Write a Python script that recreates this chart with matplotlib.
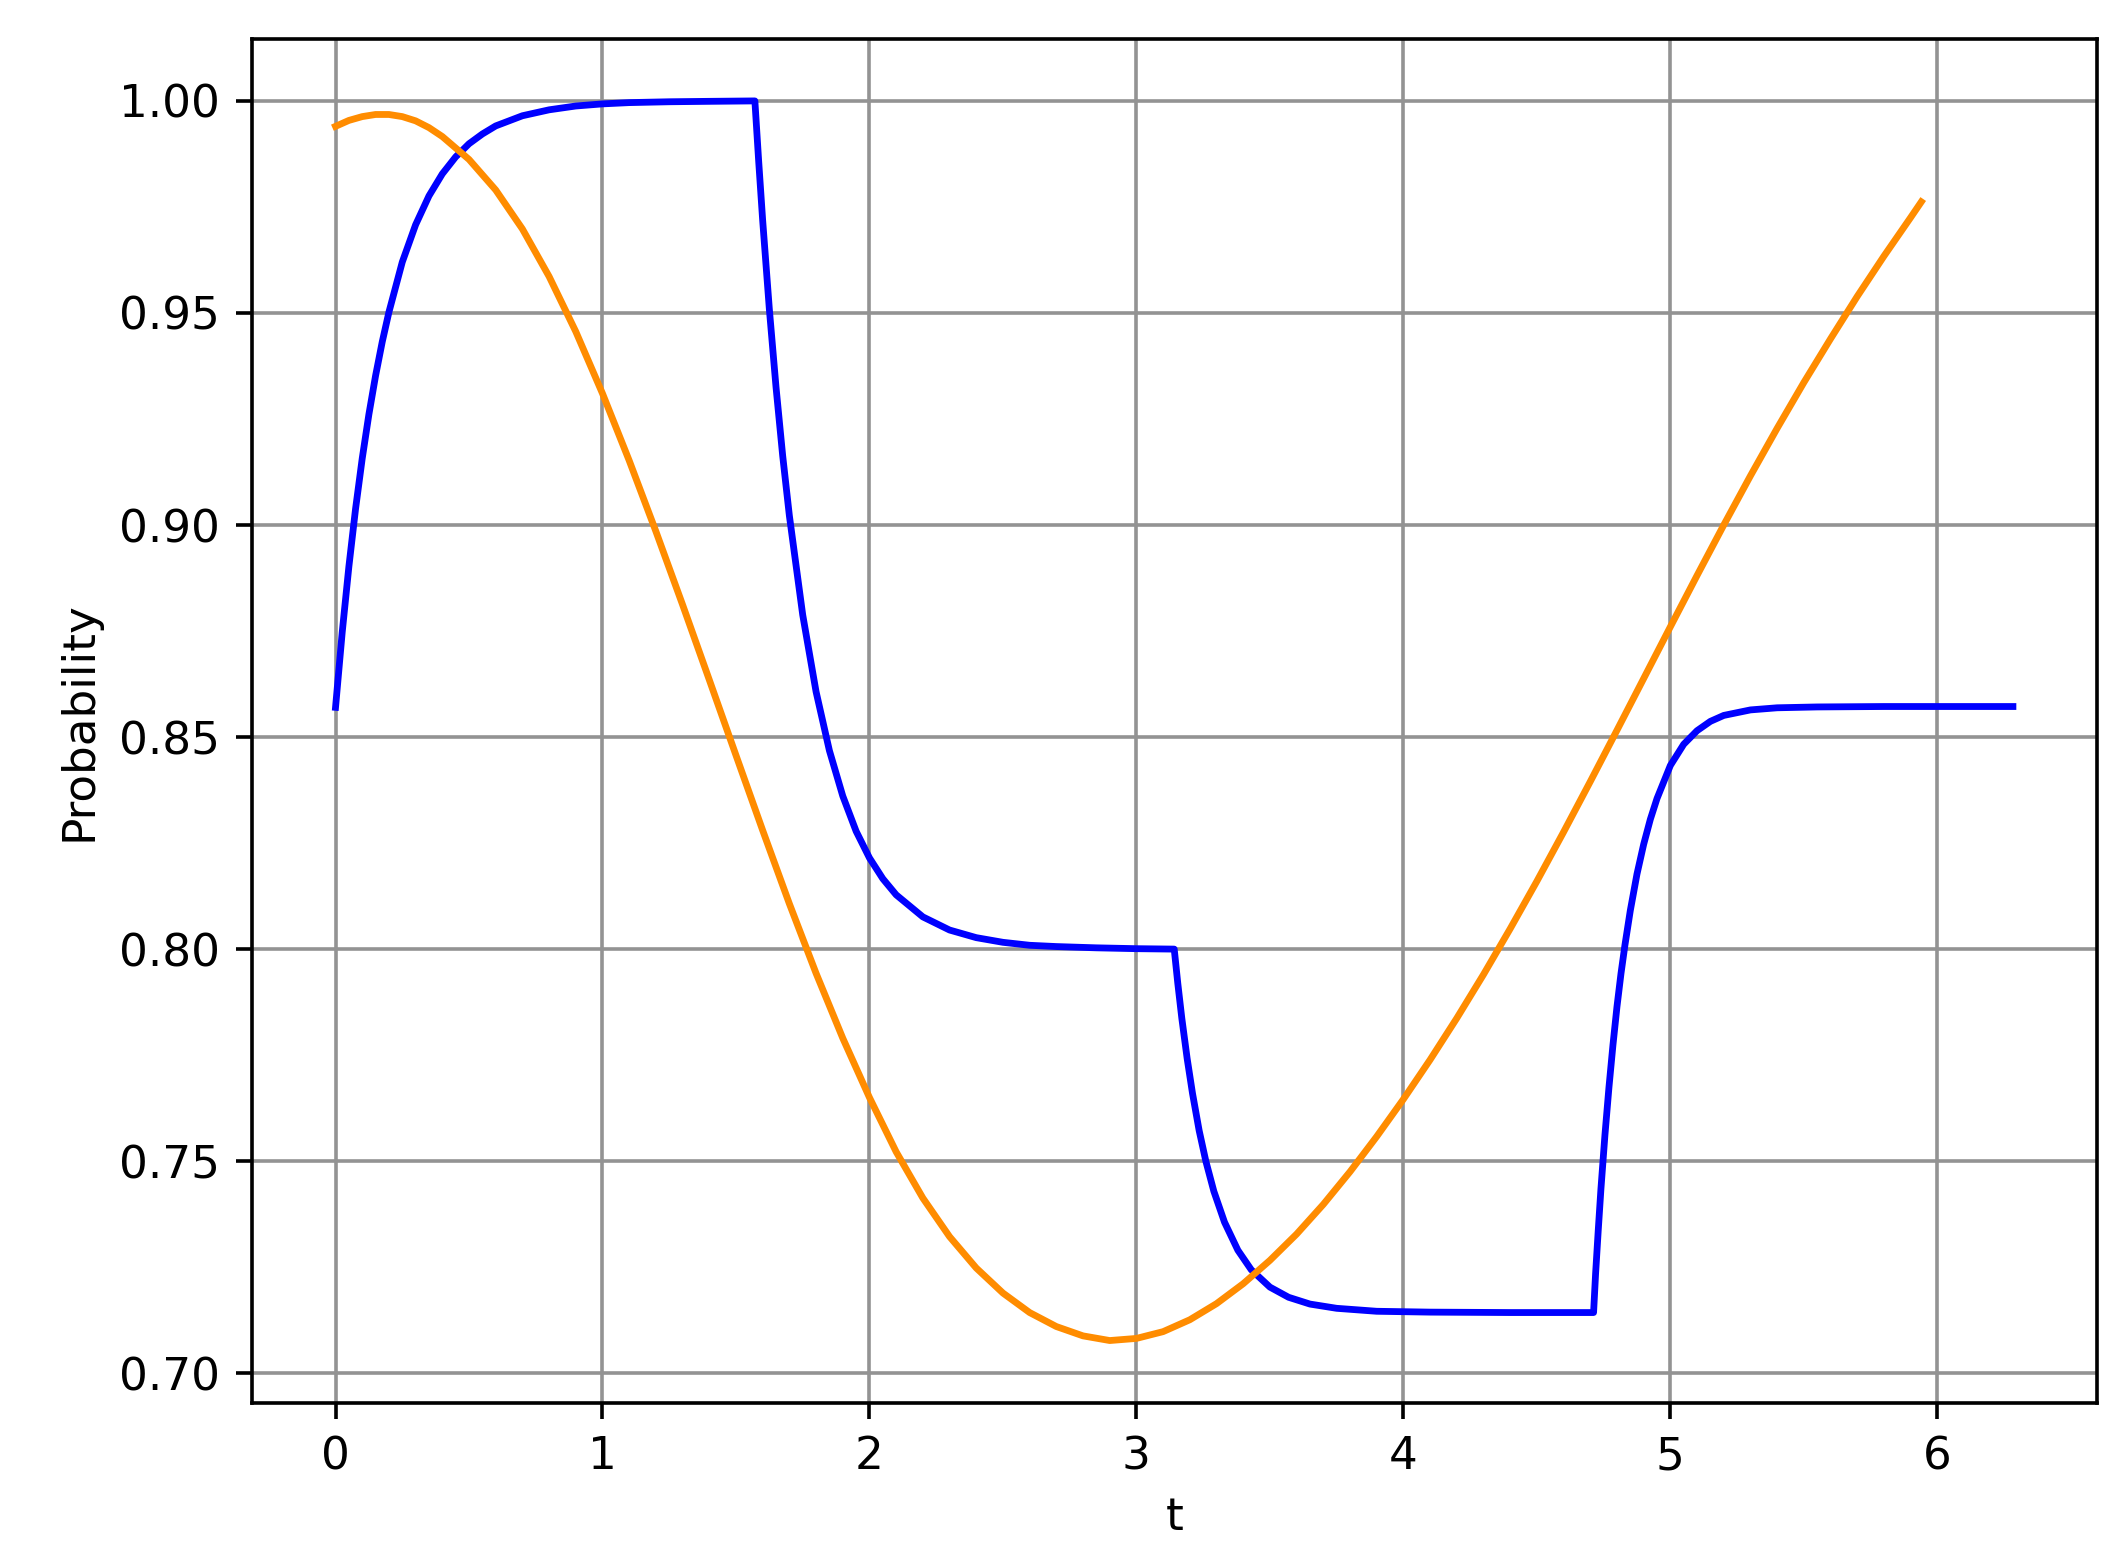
import matplotlib
matplotlib.use("Agg")
import matplotlib.pyplot as plt

# Blue curve (piecewise relaxation)
blue_t = [0.00, 0.025, 0.05, 0.075, 0.10, 0.125, 0.15, 0.175, 0.20, 0.25, 0.30, 0.35, 0.40, 0.45, 0.50, 0.55,
          0.60, 0.70, 0.80, 0.90, 1.00, 1.10, 1.25, 1.40, 1.5708,
          1.585, 1.60, 1.625, 1.65, 1.675, 1.70, 1.75, 1.80, 1.85, 1.90, 1.95, 2.00, 2.05, 2.10, 2.20, 2.30,
          2.40, 2.50, 2.60, 2.70, 2.85, 3.00, 3.1416,
          3.155, 3.17, 3.19, 3.21, 3.235, 3.26, 3.29, 3.33, 3.38, 3.43, 3.50, 3.57, 3.65, 3.75, 3.90, 4.10,
          4.40, 4.7124,
          4.72, 4.73, 4.74, 4.755, 4.77, 4.785, 4.80, 4.815, 4.83, 4.85, 4.875, 4.90, 4.925, 4.95, 5.00, 5.05,
          5.10, 5.15, 5.20, 5.30, 5.40, 5.55, 5.80, 6.2832]
blue_p = [0.8570, 0.8747, 0.8902, 0.9038, 0.9157, 0.9261, 0.9352, 0.9432, 0.9502, 0.9620, 0.9708, 0.9776, 0.9828,
          0.9868, 0.9899, 0.9922, 0.9941, 0.9965, 0.9979, 0.9988, 0.9993, 0.9996, 0.9998, 0.9999, 1.0,
          0.9858, 0.9718, 0.9509, 0.9325, 0.9163, 0.9022, 0.8788, 0.8607, 0.8468, 0.8361, 0.8278, 0.8215, 0.8166,
          0.8128, 0.8076, 0.8045, 0.8027, 0.8016, 0.8009, 0.8006, 0.8003, 0.8001, 0.8000,
          0.7919, 0.7837, 0.7742, 0.7660, 0.7572, 0.7500, 0.7429, 0.7356, 0.7290, 0.7244, 0.7203, 0.7179, 0.7163,
          0.7153, 0.7146, 0.7144, 0.7143, 0.7143,
          0.7235, 0.7338, 0.7435, 0.7562, 0.7674, 0.7774, 0.7864, 0.7942, 0.8010, 0.8091, 0.8177, 0.8247, 0.8306,
          0.8355, 0.8433, 0.8483, 0.8515, 0.8537, 0.8551, 0.8564, 0.8569, 0.8571, 0.8572, 0.8572]

# Orange curve, values
orange_t = [0.0, 0.05, 0.10, 0.15, 0.20, 0.25, 0.30, 0.35, 0.40, 0.5, 0.6, 0.7, 0.8, 0.9, 1.0, 1.1, 1.2, 1.3,
            1.4, 1.5, 1.6, 1.7, 1.8, 1.9, 2.0, 2.1, 2.2, 2.3, 2.4, 2.5, 2.6, 2.7, 2.8, 2.9, 3.0, 3.1, 3.2, 3.3,
            3.4, 3.5, 3.6, 3.7, 3.8, 3.9, 4.0, 4.1, 4.2, 4.3, 4.4, 4.5, 4.6, 4.7, 4.8, 4.9, 5.0, 5.1, 5.2, 5.3,
            5.4, 5.5, 5.6, 5.7, 5.8, 5.9, 5.94]
orange_p = [0.9940, 0.9954, 0.9963, 0.9968, 0.9968, 0.9963, 0.9953, 0.9937, 0.9916, 0.9862, 0.9790, 0.9698,
            0.9586, 0.9456, 0.9310, 0.9152, 0.8985, 0.8812, 0.8635, 0.8457, 0.8280, 0.8107, 0.7943, 0.7790,
            0.7650, 0.7522, 0.7413, 0.7322, 0.7248, 0.7189, 0.7143, 0.7110, 0.7088, 0.7077, 0.7082, 0.7098,
            0.7126, 0.7164, 0.7211, 0.7266, 0.7328, 0.7398, 0.7475, 0.7558, 0.7646, 0.7739, 0.7837, 0.7940,
            0.8048, 0.8160, 0.8276, 0.8395, 0.8516, 0.8638, 0.8760, 0.8881, 0.9000, 0.9116, 0.9228, 0.9336,
            0.9439, 0.9539, 0.9634, 0.9725, 0.9762]

fig = plt.figure(figsize=(2123 / 326, 1553 / 326), dpi=326)
ax = fig.add_axes([0.11856, 0.09639, 0.98761 - 0.11856, 0.97489 - 0.09639])

ax.plot(blue_t, blue_p, color="blue", linewidth=1.5)
ax.plot(orange_t, orange_p, color="darkorange", linewidth=1.5)

ax.set_xlim(-0.314, 6.597)
ax.set_ylim(0.6929, 1.0146)
ax.set_xticks([0, 1, 2, 3, 4, 5, 6])
ax.set_yticks([0.70, 0.75, 0.80, 0.85, 0.90, 0.95, 1.00])
ax.set_yticklabels(["0.70", "0.75", "0.80", "0.85", "0.90", "0.95", "1.00"])
ax.grid(True, color="#939393", linewidth=0.8)
ax.set_axisbelow(True)
ax.set_xlabel("t")
ax.set_ylabel("Probability")

fig.savefig("out.png", dpi=326)
